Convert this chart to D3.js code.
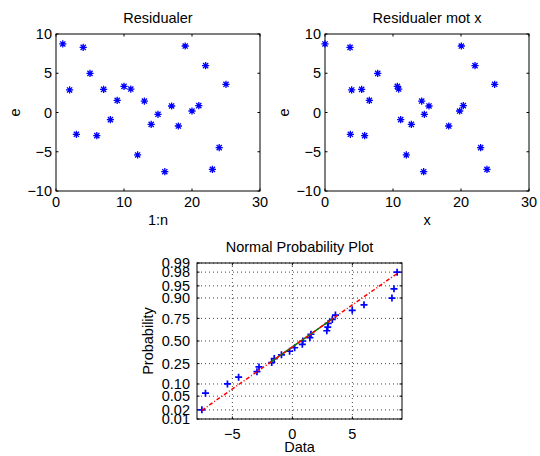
<!DOCTYPE html>
<html>
<head>
<meta charset="utf-8">
<script src="https://cdn.jsdelivr.net/npm/d3@7"></script>
<style>
  body { margin: 0; background: #fff; }
  svg { display: block; font-family: "Liberation Sans", Arial, sans-serif; }
  text { fill: #000; }
</style>
</head>
<body>
<svg width="540" height="456"></svg>
<script>
// residuals e, in observation order 1:n
var residuals = [8.73, 2.87, -2.78, 8.30, 4.99, -2.95, 2.95, -0.91, 1.55, 3.33, 2.99, -5.41, 1.46,
                 -1.51, -0.23, -7.54, 0.83, -1.72, 8.47, 0.19, 0.87, 5.97, -7.24, -4.48, 3.59];
// x value of each observation
var xValues = [0, 3.92, 3.73, 3.68, 7.75, 5.83, 5.39, 11.13, 6.52, 10.64, 10.83, 11.96, 14.22,
               12.70, 14.61, 14.51, 15.29, 18.19, 20.05, 19.80, 20.34, 22.06, 23.82, 22.89, 24.95];

var topXTicks = [0, 10, 20, 30];
var topYTicks = [-10, -5, 0, 5, 10];
var probTicks = [0.01, 0.02, 0.05, 0.10, 0.25, 0.50, 0.75, 0.90, 0.95, 0.98, 0.99];
var dataTicks = [-5, 0, 5];

var svg = d3.select("svg");
var fontSize = 14.5;
var tickLen = 2.5;
var fmt = d3.format("");

// inverse normal cdf (Acklam)
function norminv(p) {
    var a = [-39.69683028665376, 220.9460984245205, -275.9285104469687, 138.3577518672690, -30.66479806614716, 2.506628277459239];
    var b = [-54.47609879822406, 161.5858368580409, -155.6989798598866, 66.80131188771972, -13.28068155288572];
    var c = [-0.007784894002430293, -0.3223964580411365, -2.400758277161838, -2.549732539343734, 4.374664141464968, 2.938163982698783];
    var d = [0.007784695709041462, 0.3224671290700398, 2.445134137142996, 3.754408661907416];
    var q, r;
    if (p < 0.02425) {
        q = Math.sqrt(-2 * Math.log(p));
        return (((((c[0]*q+c[1])*q+c[2])*q+c[3])*q+c[4])*q+c[5]) / ((((d[0]*q+d[1])*q+d[2])*q+d[3])*q+1);
    } else if (p > 1 - 0.02425) {
        q = Math.sqrt(-2 * Math.log(1 - p));
        return -(((((c[0]*q+c[1])*q+c[2])*q+c[3])*q+c[4])*q+c[5]) / ((((d[0]*q+d[1])*q+d[2])*q+d[3])*q+1);
    }
    q = p - 0.5; r = q * q;
    return (((((a[0]*r+a[1])*r+a[2])*r+a[3])*r+a[4])*r+a[5])*q / (((((b[0]*r+b[1])*r+b[2])*r+b[3])*r+b[4])*r+1);
}

// matlab style percentile of sorted values
function prctile(sorted, p) {
    var n = sorted.length, pos = p * n + 0.5;
    if (pos <= 1) return sorted[0];
    if (pos >= n) return sorted[n - 1];
    var i = Math.floor(pos), f = pos - i;
    return sorted[i - 1] + f * (sorted[i] - sorted[i - 1]);
}

function starPath(r) {
    var k = r * 0.72;
    return "M" + (-r) + ",0H" + r + "M0," + (-r) + "V" + r +
        "M" + (-k) + "," + (-k) + "L" + k + "," + k + "M" + (-k) + "," + k + "L" + k + "," + (-k);
}
function plusPath(r) {
    return "M" + (-r) + ",0H" + r + "M0," + (-r) + "V" + r;
}

// draws box, inward ticks on all sides and tick labels
function drawAxes(g, x, y, xt, yt, ytLabel, opt) {
    var x0 = x.range()[0], x1 = x.range()[1], y0 = y.range()[0], y1 = y.range()[1];

    if (opt.grid) {
        g.selectAll(".gx").data(xt).enter().append("line")
            .attr("x1", function(d) { return x(d); }).attr("x2", function(d) { return x(d); })
            .attr("y1", y0).attr("y2", y1)
            .attr("stroke", "#444").attr("stroke-dasharray", "1,3");
        g.selectAll(".gy").data(yt).enter().append("line")
            .attr("y1", function(d) { return y(d); }).attr("y2", function(d) { return y(d); })
            .attr("x1", x0).attr("x2", x1)
            .attr("stroke", "#444").attr("stroke-dasharray", "1,3");
    }

    var ticks = g.append("g").attr("stroke", "#000").attr("stroke-width", 1);
    xt.forEach(function(d) {
        ticks.append("line").attr("x1", x(d)).attr("x2", x(d)).attr("y1", y0).attr("y2", y0 - tickLen);
        ticks.append("line").attr("x1", x(d)).attr("x2", x(d)).attr("y1", y1).attr("y2", y1 + tickLen);
    });
    yt.forEach(function(d) {
        ticks.append("line").attr("y1", y(d)).attr("y2", y(d)).attr("x1", x0).attr("x2", x0 + tickLen);
        ticks.append("line").attr("y1", y(d)).attr("y2", y(d)).attr("x1", x1).attr("x2", x1 - tickLen);
    });

    g.append("rect")
        .attr("x", x0).attr("y", y1).attr("width", x1 - x0).attr("height", y0 - y1)
        .attr("fill", "none").attr("stroke", "#000").attr("stroke-width", 1);

    g.selectAll(".xl").data(xt).enter().append("text")
        .attr("x", function(d) { return x(d); })
        .attr("y", y0 + opt.xLabGap)
        .attr("text-anchor", "middle")
        .attr("font-size", fontSize)
        .text(function(d) { return fmt(d); });

    g.selectAll(".yl").data(yt).enter().append("text")
        .attr("x", x0 - opt.yLabGap)
        .attr("y", function(d) { return y(d); })
        .attr("dy", "0.36em")
        .attr("text-anchor", "end")
        .attr("font-size", fontSize)
        .text(ytLabel);

    g.append("text")
        .attr("x", (x0 + x1) / 2).attr("y", y1 - 11)
        .attr("text-anchor", "middle").attr("font-size", fontSize)
        .text(opt.title);
    g.append("text")
        .attr("x", (x0 + x1) / 2).attr("y", y0 + opt.xTitleGap)
        .attr("text-anchor", "middle").attr("font-size", fontSize)
        .text(opt.xTitle);
    g.append("text")
        .attr("transform", "translate(" + (x0 - opt.yTitleGap) + "," + ((y0 + y1) / 2) + ") rotate(-90)")
        .attr("text-anchor", "middle").attr("font-size", fontSize)
        .text(opt.yTitle);
}

// ---- plot 1: residuals vs index
var index = residuals.map(function(d, i) { return i + 1; });

var x1 = d3.scaleLinear().domain([0, 30]).range([56, 260]);
var y1 = d3.scaleLinear().domain([-10, 10]).range([191, 34]);
var g1 = svg.append("g");
drawAxes(g1, x1, y1, topXTicks, topYTicks, function(d) { return fmt(d); },
    {title: "Residualer", xTitle: "1:n", yTitle: "e", xLabGap: 16, yLabGap: 4, xTitleGap: 34, yTitleGap: 36});
g1.selectAll(".pt").data(residuals).enter().append("path")
    .attr("transform", function(d, i) { return "translate(" + x1(index[i]) + "," + y1(d) + ")"; })
    .attr("d", starPath(3.6))
    .attr("stroke", "#00f").attr("stroke-width", 1.3).attr("fill", "none");

// ---- plot 2: residuals vs x
var x2 = d3.scaleLinear().domain([0, 30]).range([325, 529]);
var y2 = d3.scaleLinear().domain([-10, 10]).range([191, 34]);
var g2 = svg.append("g");
drawAxes(g2, x2, y2, topXTicks, topYTicks, function(d) { return fmt(d); },
    {title: "Residualer mot x", xTitle: "x", yTitle: "e", xLabGap: 16, yLabGap: 4, xTitleGap: 34, yTitleGap: 36});
g2.selectAll(".pt").data(residuals).enter().append("path")
    .attr("transform", function(d, i) { return "translate(" + x2(xValues[i]) + "," + y2(d) + ")"; })
    .attr("d", starPath(3.6))
    .attr("stroke", "#00f").attr("stroke-width", 1.3).attr("fill", "none");

// ---- plot 3: normal probability plot
var sorted = residuals.slice().sort(d3.ascending);
var n = sorted.length;
var zq = sorted.map(function(d, i) { return norminv((i + 0.5) / n); });
var minx = sorted[0], maxx = sorted[n - 1];
var dx = 0.025 * (maxx - minx);

var x3 = d3.scaleLinear().domain([minx - dx, maxx + dx]).range([197, 402]);
var y3 = d3.scaleLinear().domain([norminv(0.01), norminv(0.99)]).range([419, 263]);
var g3 = svg.append("g");
drawAxes(g3, x3, y3, dataTicks, probTicks.map(norminv),
    function(d, i) { return d3.format(".2f")(probTicks[i]); },
    {title: "Normal Probability Plot", xTitle: "Data", yTitle: "Probability", grid: true,
     xLabGap: 19.5, yLabGap: 7, xTitleGap: 33, yTitleGap: 44.5});

g3.selectAll(".pt").data(sorted).enter().append("path")
    .attr("transform", function(d, i) { return "translate(" + x3(d) + "," + y3(zq[i]) + ")"; })
    .attr("d", plusPath(3.5))
    .attr("stroke", "#00f").attr("stroke-width", 1.7).attr("fill", "none");

var q1x = prctile(sorted, 0.25), q3x = prctile(sorted, 0.75);
var q1y = norminv(0.25), q3y = norminv(0.75);
var slope = (q3y - q1y) / (q3x - q1x);
function fit(v) { return q1y + slope * (v - q1x); }

g3.append("line")
    .attr("x1", x3(q1x)).attr("y1", y3(q1y)).attr("x2", x3(q3x)).attr("y2", y3(q3y))
    .attr("stroke", "#008000").attr("stroke-width", 1.5);
g3.append("line")
    .attr("x1", x3(minx)).attr("y1", y3(fit(minx))).attr("x2", x3(maxx)).attr("y2", y3(fit(maxx)))
    .attr("stroke", "#f00").attr("stroke-width", 1.5).attr("stroke-dasharray", "4,2,1,2");
</script>
</body>
</html>
